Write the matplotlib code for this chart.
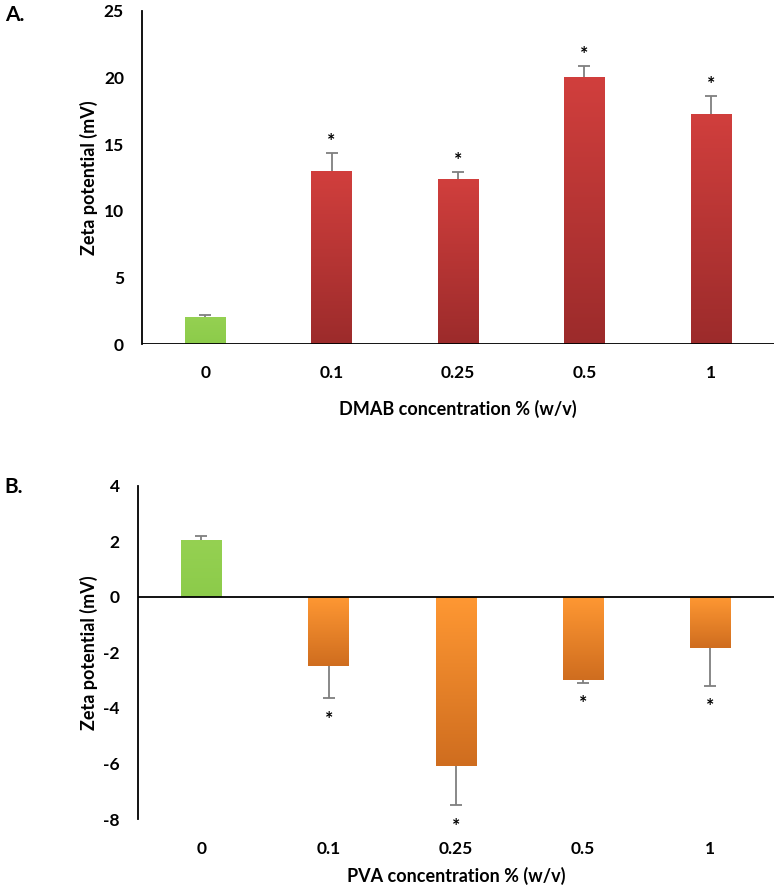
import numpy as np
import matplotlib.pyplot as plt
from matplotlib.colors import LinearSegmentedColormap

plt.rcParams['font.family'] = ['Lato', 'DejaVu Sans']
plt.rcParams['font.weight'] = 'bold'
plt.rcParams['axes.unicode_minus'] = False

categories = ['0', '0.1', '0.25', '0.5', '1']

dmab_values = [2.05, 12.95, 12.4, 20.05, 17.3]
dmab_err = [0.15, 1.4, 0.5, 0.85, 1.3]
dmab_star = [False, True, True, True, True]

pva_values = [2.05, -2.5, -6.1, -3.0, -1.85]
pva_err = [0.15, 1.15, 1.4, 0.1, 1.35]
pva_star = [False, True, True, True, True]

green = ('#95d152', '#8ccb4a')
red = ('#d13f3d', '#9c2b2b')
orange = ('#ff9833', '#cf6d1f')


def gradient_bars(ax, x, vals, colors_list, width=0.32):
    bars = ax.bar(x, vals, width=width, color='none', zorder=2)
    grad = np.linspace(0, 1, 256).reshape(-1, 1)
    for b, v, cols in zip(bars, vals, colors_list):
        cmap = LinearSegmentedColormap.from_list('g', [cols[0], cols[1]])
        x0 = b.get_x()
        # light at the top, darker at the bottom
        ext = [x0, x0 + width, min(0, v), max(0, v)]
        im = ax.imshow(grad, cmap=cmap, extent=ext, origin='upper', aspect='auto', zorder=2)
        im.set_clip_path(b)
    return bars


def draw(ax, vals, errs, stars, colors_list, ylim, yticks, xlabel):
    x = np.arange(len(vals))
    gradient_bars(ax, x, vals, colors_list)
    for xi, v, e, s in zip(x, vals, errs, stars):
        end = v + e if v >= 0 else v - e
        ax.vlines(xi, v, end, color='#7f7f7f', lw=1.3, zorder=3)
        ax.plot(xi, end, marker='_', ms=9, mew=1.3, color='#7f7f7f', zorder=3)
        if s:
            off = 2 if v >= 0 else -9
            ax.annotate('*', (xi, end), xytext=(0, off), textcoords='offset points',
                        ha='center', va='bottom' if v >= 0 else 'top', fontsize=14)
    ax.set_xlim(-0.5, len(vals) - 0.5)
    ax.set_ylim(*ylim)
    ax.set_yticks(yticks)
    ax.set_xticks(x)
    ax.set_xticklabels(categories)
    for sp in ['top', 'right', 'bottom']:
        ax.spines[sp].set_visible(False)
    ax.axhline(0, color='black', lw=1.3, zorder=4)
    ax.spines['left'].set_linewidth(1.3)
    ax.tick_params(axis='both', length=0, labelsize=12.5)
    ax.tick_params(axis='y', pad=13)
    ax.set_ylabel('Zeta potential (mV)', fontsize=13, fontweight='bold', labelpad=4)
    ax.set_xlabel(xlabel, fontsize=13, fontweight='bold')


fig = plt.figure(figsize=(7.79, 8.89), dpi=100)

ax1 = fig.add_axes([0.1823, 0.613, 0.8113, 0.3747])
draw(ax1, dmab_values, dmab_err, dmab_star,
     [green] + [red] * 4, (0, 25), range(0, 26, 5), 'DMAB concentration % (w/v)')
ax1.tick_params(axis='x', pad=15)
ax1.xaxis.labelpad = 14

ax2 = fig.add_axes([0.177, 0.0787, 0.8166, 0.375])
draw(ax2, pva_values, pva_err, pva_star,
     [green] + [orange] * 4, (-8, 4), range(-8, 5, 2), 'PVA concentration % (w/v)')
ax2.tick_params(axis='x', pad=16)
ax2.xaxis.labelpad = 7

fig.text(0.006, 0.983, 'A.', fontsize=15, fontweight='bold', va='center')
fig.text(0.006, 0.452, 'B.', fontsize=15, fontweight='bold', va='center')

fig.savefig('out.png', dpi=100)
